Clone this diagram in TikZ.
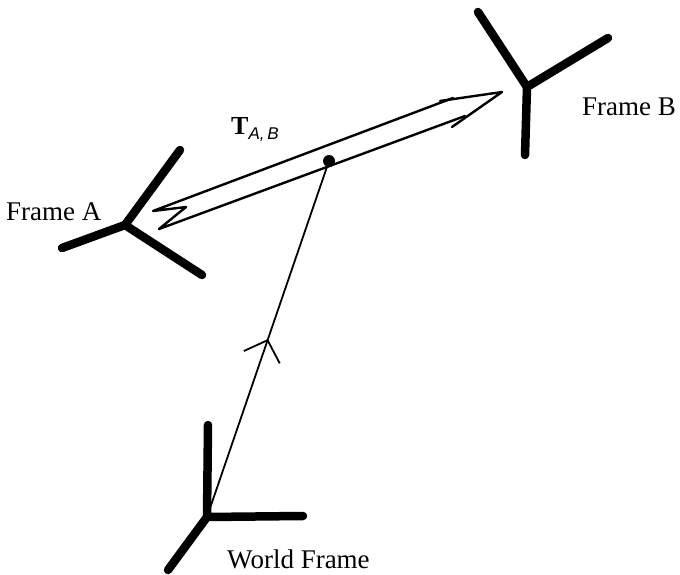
\documentclass[tikz,border=0pt]{standalone}
\usepackage{fontspec}
\setmainfont{Liberation Serif}
\setsansfont{Liberation Sans}
\usetikzlibrary{arrows.meta,decorations.markings}
\begin{document}
\begin{tikzpicture}[x=1pt,y=-1pt,
  axis/.style={line width=8.5pt,line cap=round},
  edge/.style={line width=2.4pt,line join=round,line cap=round},
  conn/.style={line width=1.8pt},
  lbl/.style={font=\fontsize{27}{29}\selectfont, inner sep=0pt, anchor=base west}]
\useasboundingbox (0,0) rectangle (680,575);
% Frame A
\coordinate (A) at (125,225);
\coordinate (A1) at (180,150);
\coordinate (A2) at (62,248);
\coordinate (A3) at (202,275);
% Frame B
\coordinate (B) at (527,87);
\coordinate (B1) at (478,12);
\coordinate (B2) at (608,38);
\coordinate (B3) at (525,155);
% World frame
\coordinate (W) at (207,517);
\coordinate (W1) at (208,425);
\coordinate (W2) at (303,516);
\coordinate (W3) at (168,570);
% transform arrow outline
\coordinate (tU) at (153,211);
\coordinate (zg) at (186,207);
\coordinate (tL) at (159,229);
\coordinate (eU) at (453,98);
\coordinate (eL) at (465,116);
\coordinate (tip) at (502,92);
\coordinate (bU) at (440,101);
\coordinate (bL) at (452,127);
\coordinate (dot) at (329,161);

\draw[axis] (A1) -- (A) -- (A2) (A) -- (A3);
\draw[axis] (B1) -- (B) -- (B2) (B) -- (B3);
\draw[axis] (W1) -- (W) -- (W2) (W) -- (W3);

\draw[conn, decoration={markings, mark=at position 0.5 with {\arrow{Straight Barb[length=18pt,width=38pt,line width=1.8pt]}}}, postaction={decorate}] (W) -- (dot);
\fill (dot) circle (6pt);

\draw[edge] (eU) -- (tU) -- (zg) -- (tL) -- (eL);
\draw[edge] (bU) -- (tip) -- (bL);

\node[lbl] (la) at (6,220) {Frame A};
\node[lbl] (lb) at (582,116) {Frame B};
\node[lbl] (lw) at (227,568) {World Frame};
\node[inner sep=0pt, anchor=base west] (tab) at (231,135) {\fontsize{26}{28}\selectfont\bfseries T\raisebox{-5pt}{\sffamily\itshape\mdseries\fontsize{17}{18}\selectfont A,\,B}};
\end{tikzpicture}
\end{document}
